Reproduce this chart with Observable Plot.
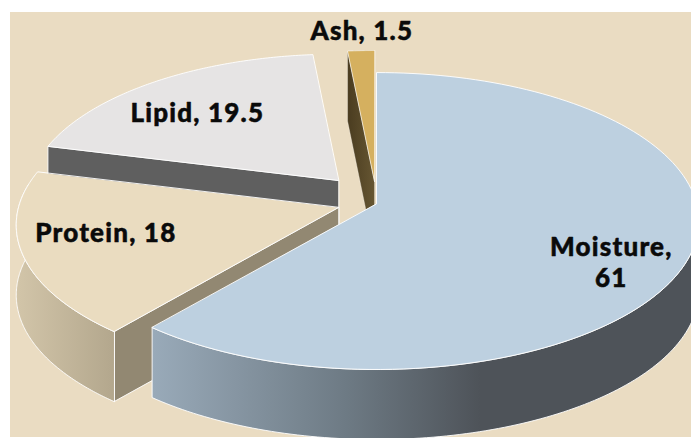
<!DOCTYPE html>
<html><head><meta charset="utf-8">
<script src="https://cdn.jsdelivr.net/npm/d3@7"></script>
<script src="https://cdn.jsdelivr.net/npm/@observablehq/plot@0.6"></script>
<style>
html,body{margin:0;padding:0;background:#fff;overflow:hidden}
#panel{position:absolute;left:10px;top:12px;width:681px;height:425px;background:#eadcc2}
#chart{position:absolute;left:0;top:0}
#chart svg text{letter-spacing:1.2px}
</style></head><body>
<div id="panel"></div><div id="chart"></div>
<script>
// Data
const categories = ["Moisture", "Protein", "Lipid", "Ash"];
const values = [61, 18, 19.5, 1.5];
const labels = ["Moisture,\n61", "Protein, 18", "Lipid, 19.5", "Ash, 1.5"];

// Layout of the perspective pie (slices clockwise from 12 o'clock)
const A = 320, B = 146.4, K = 0.118, DEPTH = 70;
const explode = {
  Moisture: {cx: 376, cy: 203, s: 1},
  Ash:      {cx: 374, cy: 181, s: 1},
  Lipid:    {cx: 338, cy: 180, s: 0.965},
  Protein:  {cx: 338, cy: 207, s: 1.0}
};
const labelPlace = {
  Moisture: {r: 0.8, dx: -14, dy: 17},
  Ash:      {r: 1.18, dx: 3, dy: 0},
  Lipid:    {r: 0.7, dx: -9, dy: 2.5},
  Protein:  {r: 0.75, dx: 2, dy: -10}
};
const total = d3.sum(values);
let acc = 0;
const slices = categories.map((name, i) => {
  const a0 = acc / total * 2 * Math.PI; acc += values[i];
  const a1 = acc / total * 2 * Math.PI;
  return {name, a0, a1, label: labels[i], ...explode[name]};
});
const byName = Object.fromEntries(slices.map(d => [d.name, d]));

function proj(sl, a, r = 1, z = 0) {
  const u = r * Math.sin(a), v = r * Math.cos(a), w = 1 + K * v;
  return {x: sl.cx + sl.s * A * u / w, y: sl.cy - sl.s * B * v / w + z};
}
const arcPts = (sl, a0, a1, z = 0) =>
  d3.range(0, 121).map(i => proj(sl, a0 + (a1 - a0) * i / 120, 1, z));
const face = sl => [proj(sl, 0, 0), ...arcPts(sl, sl.a0, sl.a1)];
const rim = (sl, a0, a1) => [...arcPts(sl, a0, a1), ...arcPts(sl, a0, a1, DEPTH).reverse()];
const cut = (sl, a) => [proj(sl, 0, 0), proj(sl, a), proj(sl, a, 1, DEPTH), proj(sl, 0, 0, DEPTH)];

const shape = (pts, fill, strokeOpacity = 0.9) => Plot.line(pts, {
  x: "x", y: "y", curve: "linear-closed", fill,
  stroke: "#fff", strokeWidth: 1, strokeOpacity, strokeLinejoin: "round"
});

const defs = () => {
  const ns = "http://www.w3.org/2000/svg";
  const d = document.createElementNS(ns, "defs");
  const grad = (id, stops) => {
    const g = document.createElementNS(ns, "linearGradient");
    g.setAttribute("id", id);
    for (const [o, c] of stops) {
      const s = document.createElementNS(ns, "stop");
      s.setAttribute("offset", o); s.setAttribute("stop-color", c);
      g.appendChild(s);
    }
    d.appendChild(g);
  };
  grad("gMoist", [[0, "#99aab9"], [0.35, "#6e7b85"], [0.6, "#4e5359"], [1, "#4e5359"]]);
  grad("gProt", [[0, "#d2c5a9"], [1, "#b3a78d"]]);
  grad("gAsh", [[0, "#4a3c20"], [1, "#665632"]]);
  return d;
};

const M = byName.Moisture, L = byName.Lipid, P = byName.Protein, S = byName.Ash;
const labelData = slices.map(sl => {
  const p = labelPlace[sl.name], q = proj(sl, (sl.a0 + sl.a1) / 2, p.r);
  return {text: sl.label, x: q.x + p.dx, y: q.y + p.dy};
});

const plot = Plot.plot({
  width: 691, height: 438, margin: 0,
  x: {domain: [0, 691], range: [0, 691], axis: null},
  y: {domain: [0, 438], range: [0, 438], axis: null},
  style: {background: "transparent"},
  marks: [
    defs,
    shape(cut(S, S.a0), "url(#gAsh)", 0.3),
    shape(face(S), "#d5b05f", 0.6),
    shape(cut(L, L.a0), "#5f5f5f"),
    shape(face(L), "#e6e4e4"),
    shape(cut(P, P.a0), "#928872"),
    shape(rim(P, P.a0, 1.55 * Math.PI), "url(#gProt)"),
    shape(face(P), "#eadcc0"),
    shape(rim(M, 0.5 * Math.PI, M.a1), "url(#gMoist)"),
    shape(face(M), "#bdd0e0"),
    Plot.text(labelData, {
      x: "x", y: "y", text: "text", fontFamily: "Lato, sans-serif", fontWeight: 900,
      fontSize: 26, fill: "#0a0a0a", stroke: "#0a0a0a", strokeWidth: 0.5, lineHeight: 1.2
    })
  ]
});
document.getElementById("chart").appendChild(plot);
</script>
</body></html>
